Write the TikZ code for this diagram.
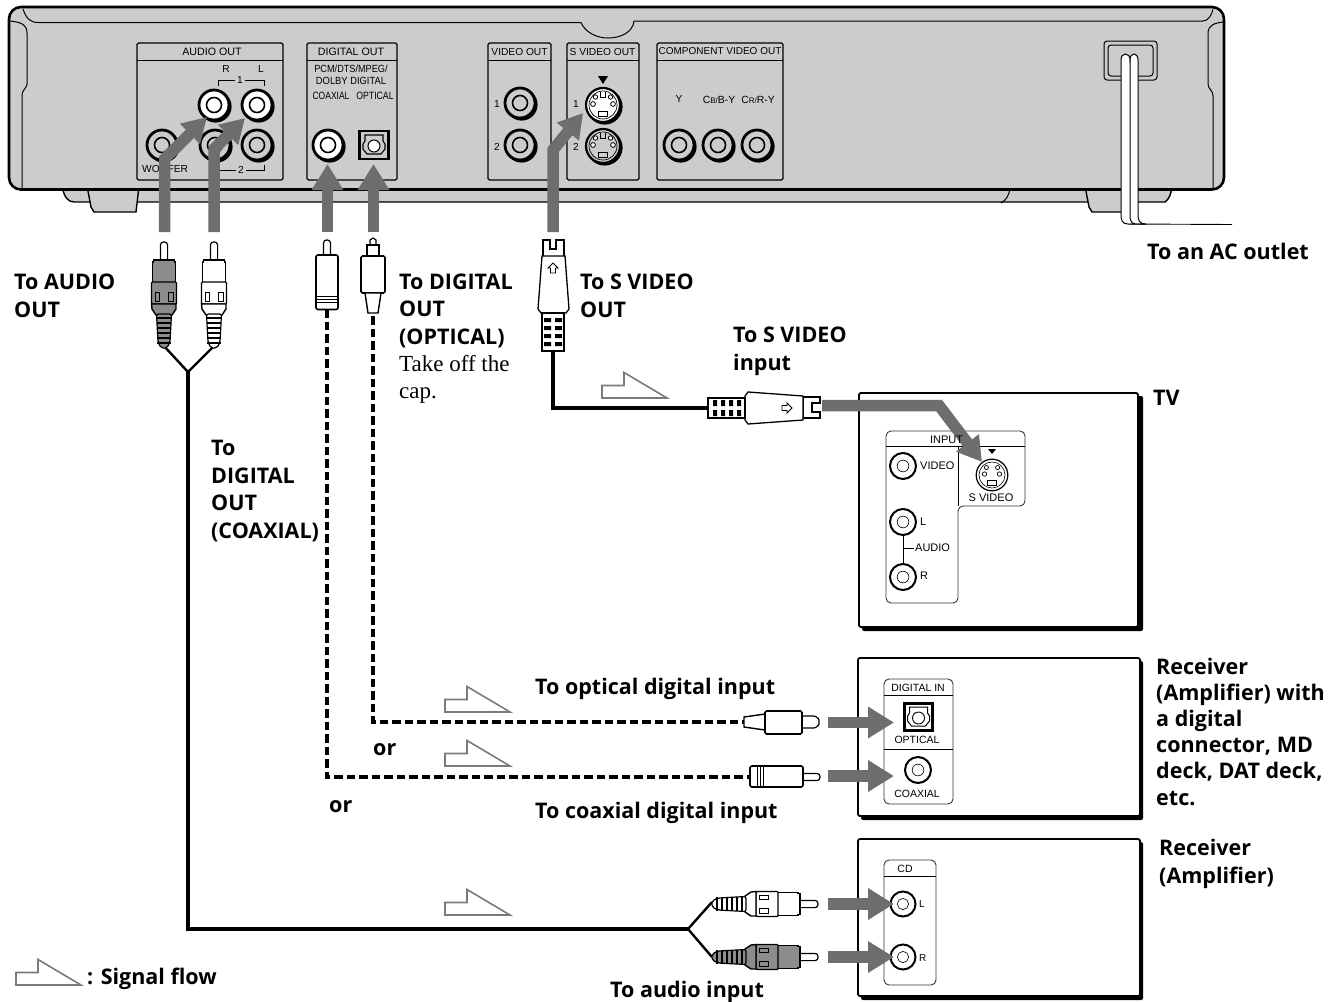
\documentclass[tikz,border=0pt]{standalone}
\usepackage{fontspec}
\setmainfont{Open Sans}
\newfontfamily\lab{Liberation Sans}
\newfontfamily\ser{Liberation Serif}
\usetikzlibrary{arrows.meta}
\definecolor{bodygray}{HTML}{CCCCCC}
\definecolor{arrowgray}{HTML}{6E6E6E}
\definecolor{pluggray}{HTML}{8C8C8C}
\definecolor{siggray}{HTML}{7A7A7A}
\tikzset{
  ln/.style={draw=black,line width=1pt},
  panel/.style={draw=black,line width=1.1pt,rounded corners=1.5pt},
  tvpanel/.style={draw=black!80,line width=0.9pt,fill=white,rounded corners=5pt},
  small/.style={font=\lab\fontsize{10.7}{11}\selectfont,text=black,inner sep=0pt},
  smaller/.style={font=\lab\fontsize{10.2}{11}\selectfont,text=black,inner sep=0pt},
  tvtext/.style={font=\lab\fontsize{11}{11}\selectfont,text=black,inner sep=0pt},
  bold/.style={font=\bfseries\fontsize{21.5}{27.5}\selectfont,anchor=base west,inner sep=0pt,align=left},
  serif/.style={font=\ser\fontsize{23}{27}\selectfont,anchor=base west,inner sep=0pt,align=left},
  grayarrow/.style={draw=arrowgray,line width=11.5pt,line join=miter,-{Triangle[length=26pt,width=30pt]}},
  bentarrow/.style={draw=arrowgray,line width=11.5pt,line join=miter,-{Triangle[length=24pt,width=27pt]}},
  cable/.style={draw=black,line width=3.2pt,line join=miter},
  dashcable/.style={draw=black,line width=3.8pt,dash pattern=on 8.5pt off 4pt},
  signal/.style={draw=siggray,line width=1.6pt,line join=miter,fill=white},
  box/.style={draw=black,line width=1.8pt,fill=white,rounded corners=2pt},
  boxshade/.style={fill=black,rounded corners=2pt},
}
\newcommand{\jack}[4]{% x y r fill
  \fill[black] (#1+1.6,#2+1.6) circle (#3);
  \draw[fill=#4,line width=2.8pt] (#1,#2) circle (#3-1);
  \draw[fill=#4,line width=1.6pt] (#1,#2) circle (#3*0.47);
}
\newcommand{\thinjack}[3]{% x y r
  \draw[fill=white,line width=2pt] (#1,#2) circle (#3);
  \draw[fill=white,line width=0.6pt] (#1,#2) circle (#3*0.45);
}
\newcommand{\optjack}[3]{% x y scale
  \begin{scope}[shift={(#1,#2)},scale=#3]
    \draw[fill=bodygray,line width=2.6pt] (-14.5,-14) rectangle (14.5,14);
    \draw[line width=1.1pt] (-9,-10)--(9,-10)--(9,-4)--(11,-1)--(11,4)--(7,9)--(-7,9)--(-11,4)--(-11,-1)--(-9,-4)--cycle;
    \draw[line width=1pt,fill=white] (0,1) circle (6);
  \end{scope}
}
\newcommand{\svjack}[4]{% x y scale fill
  \begin{scope}[shift={(#1,#2)},scale=#3]
    \fill[black] (1.6,1.6) circle (18);
    \draw[fill=#4,line width=2.2pt] (0,0) circle (17);
    \draw[line width=.7pt] (0,0) circle (14);
    \draw[line width=.8pt,fill=white] (-10,-1) circle (2.4) (10,-1) circle (2.4) (-7.5,-8) circle (2.2) (7.5,-8) circle (2.2);
    \draw[line width=.8pt] (-2.5,-13)--(-2.5,-8)--(2.5,-8)--(2.5,-13);
    \draw[line width=.8pt] (-4.5,6) rectangle (4.5,11);
  \end{scope}
}
\newcommand{\rca}[5]{% x y rot bodyfill stripfill  (origin = pin tip, plug points up)
  \begin{scope}[shift={(#1,#2)},rotate=#3]
    \draw[line width=1.2pt,fill=white,rounded corners=3pt] (-3.6,20)--(-3.6,0)--(3.6,0)--(3.6,20);
    \draw[line width=1.4pt,fill=#4] (-10.5,20)--(-10.5,18)--(10.5,18)--(10.5,20)--(11.5,20)--(11.5,42)--(-11.5,42)--(-11.5,20)--cycle;
    \draw[line width=1.4pt,fill=#5,rounded corners=1pt] (-12.5,40) rectangle (12.5,62);
    \draw[line width=1pt,fill=#4] (-9,50) rectangle (-4.5,59) (9,50) rectangle (4.5,59);
    \draw[line width=1.4pt,fill=#5] (-12.5,62)--(12,62)--(12,67)--(8,73)--(-8,73)--(-12,67)--cycle;
    \draw[line width=1.2pt,fill=#5,rounded corners=2pt] (-7.5,72)--(7.5,72)--(6,100)--(3,106)--(-3,106)--(-6,100)--cycle;
    \foreach \yy in {76,81,86,91,96,101} \draw[line width=1.5pt] (-7,\yy)--(7,\yy);
  \end{scope}
}
\newcommand{\sigflow}[2]{% left x, baseline y
  \draw[signal] (#1,#2-12.5)--(#1+22,#2-12.5)--(#1+22,#2-25.5)--(#1+65,#2)--(#1,#2)--cycle;
}
\begin{document}
\begin{tikzpicture}[x=1pt,y=-1pt]
\useasboundingbox (0,0) rectangle (1332,1001);
\fill[white] (0,0) rectangle (1332,1001);

% --- player: feet and lower band
\draw[ln,line width=1.4pt,fill=bodygray] (62,186) .. controls (64,197) and (68,202) .. (74,202)--(1165,202) .. controls (1169,199) and (1171,195) .. (1172,186)--cycle;
\draw[ln,line width=1pt] (1010,188) .. controls (1009,196) and (1006,200) .. (1001,203);
\draw[ln,line width=1.4pt,fill=bodygray] (87,186)--(91,207)--(94,212)--(136,212)--(139,186)--cycle;
\draw[ln,line width=1.4pt,fill=bodygray] (1085,186)--(1089,207)--(1092,212)--(1130,212)--(1130,186)--cycle;
% --- player: body
\draw[draw=black,line width=2.6pt,fill=bodygray,rounded corners=12pt] (9,7) rectangle (1224,189.5);
\draw[line width=3.4pt] (20,189.5)--(1212,189.5);
\draw[ln] (23,9) .. controls (26,18) and (30,22.5) .. (38,22.5)--(581,22.5);
\draw[ln] (581,22.5) .. controls (585,32) and (596,38) .. (608,38) .. controls (621,38) and (633,32) .. (634,21)--(1203,21) .. controls (1208,21) and (1212,15) .. (1213,9);
\draw[ln] (10,21) .. controls (18,22) and (27,23) .. (27,33)--(27,84) .. controls (27,88) and (22,90) .. (22,95)--(22,188);
\draw[ln] (1223,22) .. controls (1215,23) and (1208,25) .. (1208,33)--(1208,84) .. controls (1208,89) and (1213,90) .. (1213,96)--(1213,188);

% --- panels
\foreach \xa/\xb in {137/283, 307/397, 488/551, 567/639, 657/783}{
  \draw[panel] (\xa,43) rectangle (\xb,180);
  \draw[line width=1pt] (\xa,60)--(\xb,60);
}
\node[small] (tAudio) at (212,51.5) {AUDIO OUT};
\node[small] (tDigital) at (351,51.5) {DIGITAL OUT};
\node[smaller] (tVideo) at (519.5,51.5) {VIDEO OUT};
\node[smaller] (tSvideo) at (602.5,51.5) {S VIDEO OUT};
\node[font=\lab\fontsize{10}{11}\selectfont,text=black,inner sep=0pt] (tComp) at (720,51.5) {COMPONENT VIDEO OUT};

% audio panel
\node[smaller] (tR) at (226,69) {R};
\node[smaller] (tL) at (261,69) {L};
\node[smaller] (t1) at (240,80) {1};
\draw[line width=.8pt] (218,86)--(218,80.5)--(235,80.5) (245,80.5)--(264,80.5)--(264,86);
\jack{214}{105}{16}{white}
\jack{257}{105}{16}{white}
\jack{162}{145}{16}{bodygray}
\jack{215}{145}{16}{bodygray}
\jack{257}{145}{16}{bodygray}
\node[smaller,anchor=west] (tWoofer) at (142,169) {WOOFER};
\node[smaller] (t2) at (241,170) {2};
\draw[line width=.8pt] (218,170.5)--(236,170.5) (246,170.5)--(264,170.5)--(264,165);

% digital panel
\node[font=\lab\fontsize{10.4}{12}\selectfont,text=black,inner sep=0pt] (tPcm1) at (351,69) {\scalebox{.88}[1]{PCM/DTS/MPEG/}};
\node[font=\lab\fontsize{10.4}{12}\selectfont,text=black,inner sep=0pt] (tPcm2) at (351,80.5) {\scalebox{.9}[1]{DOLBY DIGITAL}};
\node[font=\lab\fontsize{10.6}{12}\selectfont,text=black,inner sep=0pt] (tCoax) at (331,96) {\scalebox{.8}[1]{COAXIAL}};
\node[font=\lab\fontsize{10.6}{12}\selectfont,text=black,inner sep=0pt] (tOpt) at (375,96) {\scalebox{.82}[1]{OPTICAL}};
\jack{328}{145}{16}{white}
\optjack{374}{145}{1}

% video panel
\node[smaller] (tV1) at (497,104) {1};
\node[smaller] (tV2) at (497,147) {2};
\jack{520}{103}{16}{bodygray}
\jack{520}{145}{16}{bodygray}

% s video panel
\fill[black] (598,76)--(608,76)--(603,84)--cycle;
\node[smaller] (tS1) at (576,104) {1};
\node[smaller] (tS2) at (576,147) {2};
\svjack{603}{105}{1}{white}
\svjack{603}{146}{1}{bodygray}

% component panel
\node[smaller] (tY) at (679,99) {Y};
\node[inner sep=0pt,text=black] (tCb) at (719,99.5) {\lab\fontsize{10.4}{11}\selectfont C\fontsize{8}{11}\selectfont B/\fontsize{10.4}{11}\selectfont B-Y};
\node[inner sep=0pt,text=black] (tCr) at (758,99.5) {\lab\fontsize{10.4}{11}\selectfont C\fontsize{8}{11}\selectfont R/\fontsize{10.4}{11}\selectfont R-Y};
\jack{679}{145}{16}{bodygray}
\jack{718}{145}{16}{bodygray}
\jack{757}{145}{16}{bodygray}

% power cord
\draw[ln,rounded corners=3pt,fill=bodygray] (1104,41) rectangle (1157,80);
\draw[ln,rounded corners=3pt] (1108,45) rectangle (1153,76);
\draw[ln,fill=white] (1121,206) -- (1121,60) .. controls (1121,52) and (1130,52) .. (1130,60) .. controls (1130,52) and (1138,52) .. (1138,60)
  --(1138,214) .. controls (1138,220) and (1139,224) .. (1146,224)--(1128,224) .. controls (1122,224) and (1121,220) .. (1121,214)--cycle;
\draw[ln] (1130,60)--(1130,216) .. controls (1130,220) and (1131,223) .. (1135,224);
\coordinate (cordA) at (1130,224);
\coordinate (cordB) at (1232,224.5);
\draw[line width=.9pt] (cordA)--(cordB);

% --- cables
\coordinate (yL) at (164,346);
\coordinate (yR) at (214,346);
\coordinate (yJ) at (188,372);
\coordinate (hJ) at (688,929);
\coordinate (hL) at (712,902);
\coordinate (hR) at (712,957);
\draw[cable,line width=2.4pt] (yL)--(yJ)--(yR);
\draw[cable] (yJ) |- (hJ);
\draw[cable,line width=2.4pt] (hL)--(hJ)--(hR);

\coordinate (coaxTop) at (327,309);
\coordinate (coaxEnd) at (751,777);
\coordinate (optTop) at (373,316);
\coordinate (optEnd) at (744,722);
\draw[dashcable] (coaxTop) |- (coaxEnd);
\draw[dashcable] (optTop) |- (optEnd);

\coordinate (svTop) at (553,350);
\coordinate (svEnd) at (708,408);
\draw[cable] (svTop) |- (svEnd);

% --- plugs
\rca{164}{242}{0}{pluggray}{pluggray}
\rca{214}{242}{0}{white}{white}
\rca{818}{904}{-90}{white}{white}
\rca{818}{957}{-90}{pluggray}{pluggray}

% coax plug vertical
\draw[line width=1.2pt,fill=white,rounded corners=3pt] (323.5,258)--(323.5,240)--(330.5,240)--(330.5,258);
\draw[line width=1.6pt,fill=white,rounded corners=2pt] (316,255) rectangle (338,309.5);
\draw[line width=.6pt] (316,296)--(338,296) (316,299)--(338,299) (316,302)--(338,302);
% optical plug vertical
\draw[line width=1.2pt,fill=white] (370,252)--(370,240)--(373,238)--(376,240)--(376,252);
\draw[line width=1.4pt,fill=white] (367,255)--(367,245)--(379,245)--(379,255);
\draw[line width=1.6pt,fill=white,rounded corners=1.5pt] (361,256) rectangle (385,293);
\draw[line width=1.4pt,fill=white] (365,293)--(368,313)--(378,313)--(381,293)--cycle;

% optical plug horizontal
\draw[line width=1.2pt,fill=white,rounded corners=1pt] (800,716)--(815,716)--(819,719)--(819,725)--(815,728)--(800,728);
\draw[line width=1.4pt,fill=white] (765,714)--(744,717)--(744,727)--(765,730)--cycle;
\draw[line width=1.6pt,fill=white,rounded corners=1.5pt] (765,711) rectangle (802,734);
% coax plug horizontal
\draw[line width=1.2pt,fill=white,rounded corners=3pt] (800,773.5)--(820,773.5)--(820,780.5)--(800,780.5);
\draw[line width=1.6pt,fill=white,rounded corners=2pt] (750,766) rectangle (803,787);
\draw[line width=.6pt] (757,766)--(757,787) (760,766)--(760,787) (763,766)--(763,787);

% s video plug vertical
\draw[line width=1.3pt,fill=white] (543,257)--(543,240)--(550,240)--(550,249)--(556,249)--(556,240)--(564,240)--(564,257)--cycle;
\draw[line width=1.3pt,fill=white] (542,256)--(565,256)--(569,309)--(566,313)--(541,313)--(538,309)--cycle;
\draw[line width=.9pt,fill=white] (553,263)--(558,268)--(555.5,268)--(555.5,273)--(550.5,273)--(550.5,268)--(548,268)--cycle;
\draw[line width=1.3pt,fill=white] (542,313) rectangle (564,351);
\foreach \yy in {320,328,336,344} \fill[black] (544,\yy-2) rectangle (551,\yy+2) (555,\yy-2) rectangle (562,\yy+2);
% s video plug horizontal
\draw[line width=1.3pt,fill=white] (803,397)--(820,397)--(820,403)--(812,403)--(812,412)--(820,412)--(820,418)--(803,418)--cycle;
\draw[line width=1.3pt,fill=white] (748,392)--(803,396)--(803,420)--(748,424)--(745,420)--(745,396)--cycle;
\draw[line width=.9pt,fill=white] (792,408)--(787,403)--(787,405.5)--(782,405.5)--(782,410.5)--(787,410.5)--(787,413)--cycle;
\draw[line width=1.3pt,fill=white] (708,398) rectangle (745,418);
\foreach \xx in {715,723,731,739} \fill[black] (\xx-2,400) rectangle (\xx+2,406) (\xx-2,410) rectangle (\xx+2,416);

% --- signal flow marks
\sigflow{602}{398}
\sigflow{445}{712}
\sigflow{445}{766}
\sigflow{445}{915}
\sigflow{16}{985}

% --- TV
\fill[boxshade] (862,396) rectangle (1143,631);
\draw[box] (859,393) rectangle (1138,627);
\draw[tvpanel] (886,431) -- (1025,431) -- (1025,506) -- (958,506) -- (958,603) -- (886,603) -- cycle;
\draw[line width=.9pt] (886,446)--(1025,446) (958,446)--(958,506);
\node[tvtext,anchor=west] (tTvV) at (920,466) {VIDEO};
\node[tvtext,anchor=west] (tTvL) at (920,522) {L};
\node[tvtext,anchor=west] (tTvA) at (915,548) {AUDIO};
\node[tvtext,anchor=west] (tTvR) at (920,576) {R};
\node[tvtext] (tTvS) at (991,498) {S VIDEO};
\draw[line width=.9pt] (903,530)--(903,570) (903,548)--(914,548);
\thinjack{903}{466}{13}
\thinjack{903}{522}{13}
\thinjack{903}{577}{13}
\fill[black] (988,449)--(996,449)--(992,454)--cycle;
\begin{scope}[shift={(992,475)},scale=.93]
  \draw[fill=white,line width=1.2pt] (0,0) circle (17);
  \draw[line width=.6pt] (0,0) circle (14);
  \draw[line width=.7pt,fill=white] (-8,-1) circle (2.4) (8,-1) circle (2.4) (-6,-8) circle (2.2) (6,-8) circle (2.2);
  \draw[line width=.7pt] (-5,6) rectangle (5,11);
\end{scope}

% --- receiver 1
\fill[boxshade] (861,661) rectangle (1143,820);
\draw[box] (858,658) rectangle (1140,816);
\draw[tvpanel] (884,679) rectangle (953,804);
\draw[line width=.9pt] (884,695)--(953,695) (884,749)--(953,749);
\node[smaller,font=\lab\fontsize{10.5}{11}\selectfont] (tDigIn) at (918,688) {DIGITAL IN};
\begin{scope}[shift={(918.5,717)}]
  \draw[fill=white,line width=2.4pt] (-14,-13.5) rectangle (14,13.5);
  \draw[line width=1pt] (-9,-10)--(9,-10)--(9,-4)--(11,-1)--(11,4)--(7,9)--(-7,9)--(-11,4)--(-11,-1)--(-9,-4)--cycle;
  \draw[line width=.9pt,fill=white] (0,1) circle (6);
\end{scope}
\node[smaller,font=\lab\fontsize{10.5}{11}\selectfont] (tRcOpt) at (917,739.5) {OPTICAL};
\thinjack{918}{770}{13}
\node[smaller,font=\lab\fontsize{10.5}{11}\selectfont] (tRcCoax) at (917,794) {COAXIAL};

% --- receiver 2
\fill[boxshade] (861,842) rectangle (1143,1000);
\draw[box] (858,839) rectangle (1140,996);
\draw[tvpanel] (884,860) rectangle (936,985);
\draw[line width=.9pt] (884,876)--(936,876);
\node[smaller,font=\lab\fontsize{10.5}{11}\selectfont] (tCD) at (905,868.5) {CD};
\thinjack{903}{904}{12.5}
\thinjack{903}{957}{12.5}
\node[smaller,font=\lab\fontsize{10}{11}\selectfont,anchor=west] (tCdL) at (919,904) {L};
\node[smaller,font=\lab\fontsize{10}{11}\selectfont,anchor=west] (tCdR) at (919,958) {R};

% --- grey arrows
\coordinate (a1s) at (164.5,232); \coordinate (a1b) at (164.5,159); \coordinate (a1t) at (207,117);
\coordinate (a2s) at (214,232);   \coordinate (a2b) at (214,149);   \coordinate (a2t) at (245,118);
\coordinate (a3s) at (327.5,232); \coordinate (a3t) at (327.5,164);
\coordinate (a4s) at (373.5,232); \coordinate (a4t) at (373.5,164);
\coordinate (a5s) at (553,232);   \coordinate (a5b) at (553,150);   \coordinate (a5t) at (583,113);
\coordinate (a6s) at (822,405.5); \coordinate (a6b) at (939,405.5); \coordinate (a6t) at (982,462);
\draw[bentarrow] (a1s)--(a1b)--(a1t);
\draw[bentarrow] (a2s)--(a2b)--(a2t);
\draw[grayarrow] (a3s)--(a3t);
\draw[grayarrow] (a4s)--(a4t);
\draw[bentarrow] (a5s)--(a5b)--(a5t);
\draw[bentarrow] (a6s)--(a6b)--(a6t);
\foreach \yy/\nn in {722.5/a, 776/b, 904/c, 957/d}{
  \coordinate (h\nn s) at (828,\yy); \coordinate (h\nn t) at (894,\yy);
  \draw[grayarrow] (h\nn s)--(h\nn t);
}
\node[tvtext] (tInput) at (946.5,440) {INPUT};

% --- labels
\node[bold] (lAudio) at (14,317) {To AUDIO\\OUT};
\node[bold] (lOpt) at (399,344) {To DIGITAL\\OUT\\(OPTICAL)};
\node[serif] (lCap) at (399,398) {Take off the\\cap.};
\node[bold] (lSv) at (580,317) {To S VIDEO\\OUT};
\node[bold] (lSvIn) at (733,370) {To S VIDEO\\input};
\node[bold] (lTV) at (1153,405) {TV};
\node[bold] (lCoax) at (211,538) {To\\DIGITAL\\OUT\\(COAXIAL)};
\node[bold] (lOptIn) at (535,694) {To optical digital input};
\node[bold] (lOr1) at (373,755) {or};
\node[bold] (lOr2) at (329,812) {or};
\node[bold] (lCoaxIn) at (535,818) {To coaxial digital input};
\node[bold,font=\bfseries\fontsize{21.5}{26.2}\selectfont] (lRcv) at (1156,805) {Receiver\\(Amplifier) with\\a digital\\connector, MD\\deck, DAT deck,\\etc.};
\node[bold] (lRcv2) at (1159,883) {Receiver\\(Amplifier)};
\node[bold] (lFlow) at (87,984) {: Signal flow};
\node[bold] (lAudIn) at (610,997) {To audio input};
\node[bold] (lAC) at (1147,259) {To an AC outlet};
\end{tikzpicture}
\end{document}
